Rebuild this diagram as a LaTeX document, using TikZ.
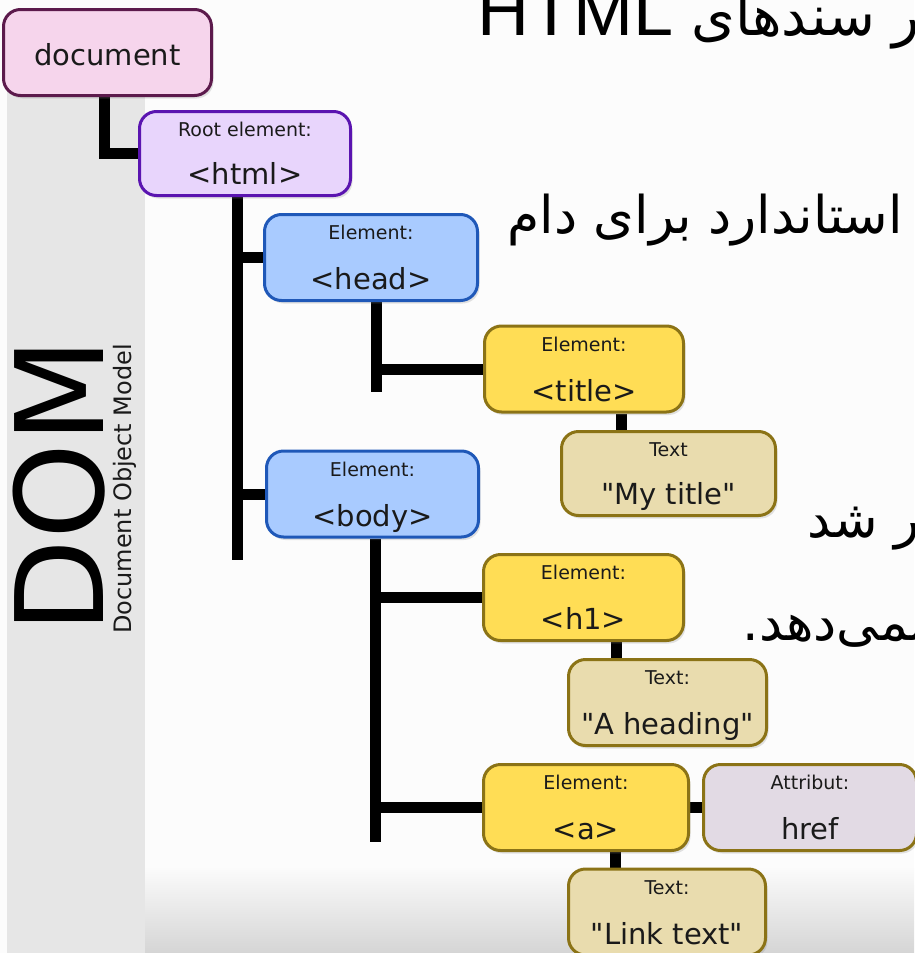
\documentclass[tikz,border=0pt]{standalone}
\usepackage{fontspec}
\setmainfont{DejaVu Sans}[Ligatures=TeXOff]
\newfontfamily\arabicfont[Script=Arabic]{DejaVu Sans}
\newfontfamily\arialfont{Liberation Sans}
\TeXXeTstate=1
\usetikzlibrary{shadows}
\pgfdeclarelayer{back}
\pgfdeclarelayer{bg}
\pgfsetlayers{back,bg,main}
\definecolor{pagebg}{HTML}{FCFCFC}
\definecolor{bandgray}{HTML}{E6E6E6}
\definecolor{docfill}{HTML}{F6D5EC}
\definecolor{docline}{HTML}{5C1A4C}
\definecolor{htmlfill}{HTML}{E8D5FC}
\definecolor{htmlline}{HTML}{5A14B0}
\definecolor{blufill}{HTML}{A9CBFF}
\definecolor{bluline}{HTML}{1F58B8}
\definecolor{yelfill}{HTML}{FFDD55}
\definecolor{oliveline}{HTML}{8B7316}
\definecolor{txtfill}{HTML}{E9DCAE}
\definecolor{attrfill}{HTML}{E2DAE4}
\definecolor{txtcol}{HTML}{1A1A1A}
\definecolor{shadebot}{HTML}{D5D5D5}
\newcommand\boxlabels[3]{%
  \node[smalltxt,anchor=base] (#1s) at ([yshift=-26.5pt]#1.north) {#2};
  \node[bigtxt,anchor=base] (#1b) at ([yshift=12.5pt]#1.south) {#3};}
\begin{document}
\begin{tikzpicture}[x=1pt,y=-1pt,
  domnode/.style={draw, line width=3pt, rounded corners=17pt, minimum height=86pt,
    inner sep=0pt, drop shadow={shadow xshift=2pt,shadow yshift=-3pt,opacity=0.22}},
  docbox/.style={domnode, fill=docfill, draw=docline},
  htmlbox/.style={domnode, fill=htmlfill, draw=htmlline},
  bluebox/.style={domnode, fill=blufill, draw=bluline},
  yelbox/.style={domnode, fill=yelfill, draw=oliveline},
  txtbox/.style={domnode, fill=txtfill, draw=oliveline},
  attrbox/.style={domnode, fill=attrfill, draw=oliveline},
  smalltxt/.style={inner sep=0pt, text=txtcol, font=\fontsize{19}{22}\selectfont},
  bigtxt/.style={inner sep=0pt, text=txtcol, font=\fontsize{29}{34}\selectfont},
  conn/.style={line width=11pt, black, line cap=butt, line join=miter},
  ptext/.style={inner sep=0pt, anchor=base east, text=black}]
\useasboundingbox (0,0) rectangle (914,953);
\begin{pgfonlayer}{back}
  \fill[pagebg] (0,0) rectangle (914,953);
  \fill[bandgray] (7,30) rectangle (145,953);
  \shade[top color=pagebg, bottom color=shadebot] (145,866) rectangle (914,953);
\end{pgfonlayer}

% boxes
\node[docbox, minimum width=208pt] (doc) at (107.5,52.5) {};
\node[bigtxt, anchor=base] (doct) at ([yshift=-12.5pt]doc.center) {document};
\node[htmlbox, minimum width=211pt, minimum height=84pt] (html) at (245,153.5) {};
\boxlabels{html}{Root element:}{<html>}
\node[bluebox, minimum width=213pt] (head) at (371,257.5) {};
\boxlabels{head}{Element:}{<head>}
\node[bluebox, minimum width=212pt] (body) at (372.5,494) {};
\boxlabels{body}{Element:}{<body>}
\node[yelbox, minimum width=199pt] (title) at (584,369) {};
\boxlabels{title}{Element:}{<title>}
\node[txtbox, minimum width=214pt, minimum height=84pt] (mytitle) at (668.5,473.5) {};
\boxlabels{mytitle}{Text}{"My title"}
\node[yelbox, minimum width=200pt] (hone) at (583.5,597.5) {};
\boxlabels{hone}{Element:}{<h1>}
\node[txtbox, minimum width=198pt] (ahead) at (667.5,702.5) {};
\boxlabels{ahead}{Text:}{"A heading"}
\node[yelbox, minimum width=205pt] (anch) at (586,807.5) {};
\boxlabels{anch}{Element:}{<a>}
\node[attrbox, minimum width=213pt] (href) at (810,807.5) {};
\boxlabels{href}{Attribut:}{href}
\node[txtbox, minimum width=197pt] (link) at (667,912) {};
\boxlabels{link}{Text:}{"Link text"}

% connectors
\coordinate (htmlend) at (237.5,560);
\coordinate (headend) at (376,392);
\coordinate (bodyend) at (375,842);
\begin{pgfonlayer}{bg}
  \draw[conn] ([xshift=-3.5pt]doc.south) |- (html.west);
  \draw[conn] ([xshift=-7.5pt]html.south) -- (htmlend);
  \draw[conn] (head.west) -- (head.west -| htmlend);
  \draw[conn] (body.west) -- (body.west -| htmlend);
  \draw[conn] ([xshift=5pt]head.south) -- (headend);
  \draw[conn] (title.west) -- (title.west -| headend);
  \coordinate (c1) at ([xshift=37.5pt]title.south);
  \draw[conn] (c1) -- (c1 |- mytitle.north);
  \draw[conn] ([xshift=2.5pt]body.south) -- (bodyend);
  \draw[conn] (hone.west) -- (hone.west -| bodyend);
  \draw[conn] (anch.west) -- (anch.west -| bodyend);
  \coordinate (c2) at ([xshift=32.5pt]hone.south);
  \draw[conn] (c2) -- (c2 |- ahead.north);
  \draw[conn] (anch.east) -- (href.west);
  \coordinate (c3) at ([xshift=29.5pt]anch.south);
  \draw[conn] (c3) -- (c3 |- link.north);
\end{pgfonlayer}

% DOM side label
\node[rotate=90, inner sep=0pt, anchor=base west, text=black,
  font=\fontsize{122}{130}\selectfont] (dom) at (103,634) {DOM};
\node[rotate=90, inner sep=0pt, anchor=base west, text=txtcol,
  font=\fontsize{24}{28}\selectfont] (dommodel) at (131,634) {Document Object Model};

% Persian text (cut at the right edge, as in the reference)
\node[ptext] (p1) at (920,35) {\fontsize{56}{64}\arabicfont\beginR ر سندهای \beginL{\fontsize{72}{80}\arialfont HTML}\endL\endR};
\node[ptext] (p2) at (903,233) {\fontsize{52}{60}\arabicfont\beginR استاندارد برای دام\endR};
\node[ptext] (p3) at (920,537) {\fontsize{52}{60}\arabicfont\beginR ر شد\endR};
\node[ptext] (p4) at (925,640) {\fontsize{52}{60}\arabicfont\beginR نمی‌دهد.\endR};
\end{tikzpicture}
\end{document}
